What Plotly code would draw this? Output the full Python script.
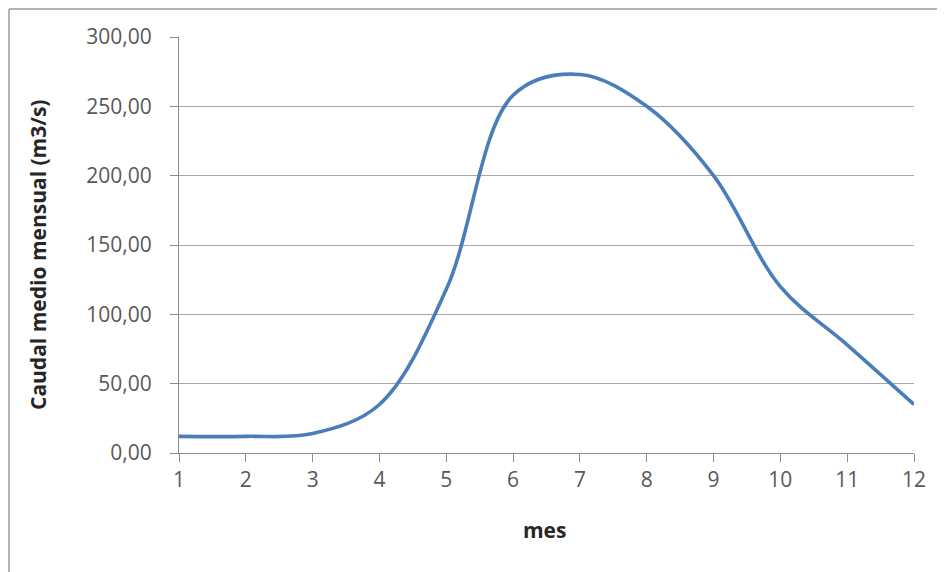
import plotly.graph_objects as go

months = [1, 2, 3, 4, 5, 6, 7, 8, 9, 10, 11, 12]
caudal = [12, 12, 14, 35, 118, 258, 273, 250, 200, 120, 78, 35]
y_ticks = [0, 50, 100, 150, 200, 250, 300]
y_tick_labels = ["0,00", "50,00", "100,00", "150,00", "200,00", "250,00", "300,00"]

W, H = 945, 572
L, T = 171, 29
pw, ph = 735, 416
R, B = W - L - pw, H - T - ph

def px(fx):
    return (fx - L) / pw

def py(fy):
    return (T + ph - fy) / ph

fig = go.Figure()
fig.add_trace(go.Scatter(
    x=months, y=caudal, mode="lines",
    line=dict(color="#4a7ebb", width=3.6, shape="spline", smoothing=1.0),
    hoverinfo="x+y", showlegend=False,
))

tick_font = dict(family="Open Sans, Liberation Sans, sans-serif", size=21, color="#595959")
title_font = dict(family="Open Sans, Liberation Sans, sans-serif", size=21, color="#262626")

fig.update_layout(
    width=W, height=H,
    margin=dict(l=L, r=R, t=T, b=B),
    paper_bgcolor="white", plot_bgcolor="white",
    xaxis=dict(
        range=[1, 12], tickmode="array", tickvals=months,
        ticktext=[str(m) for m in months],
        showgrid=False, zeroline=False,
        showline=True, linecolor="#8c8c8c", linewidth=1,
        ticks="outside", ticklen=8, tickcolor="#8c8c8c",
        tickfont=tick_font,
    ),
    yaxis=dict(
        range=[0, 300], tickmode="array", tickvals=y_ticks, ticktext=y_tick_labels,
        showgrid=True, gridcolor="#a6a6a6", gridwidth=1.4,
        zeroline=False,
        showline=True, linecolor="#8c8c8c", linewidth=1,
        ticks="outside", ticklen=8, tickcolor="#8c8c8c",
        ticklabelstandoff=14,
        tickfont=tick_font,
    ),
    annotations=[
        dict(text="<b>Caudal medio mensual (m3/s)</b>", xref="paper", yref="paper",
             x=px(30), y=py(247), xanchor="center", yanchor="middle",
             textangle=-90, showarrow=False, font=title_font),
        dict(text="<b>mes</b>", xref="paper", yref="paper",
             x=px(536), y=py(522), xanchor="center", yanchor="middle",
             showarrow=False, font=title_font),
    ],
)

# outer chart frame (left and top edges visible)
fig.add_shape(type="line", xref="paper", yref="paper",
              x0=px(1), x1=px(1), y0=py(1), y1=py(H + 5),
              line=dict(color="#9a9a9a", width=1.5))
fig.add_shape(type="line", xref="paper", yref="paper",
              x0=px(1), x1=px(W + 5), y0=py(1), y1=py(1),
              line=dict(color="#9a9a9a", width=1.5))

fig.write_html("out.html")
